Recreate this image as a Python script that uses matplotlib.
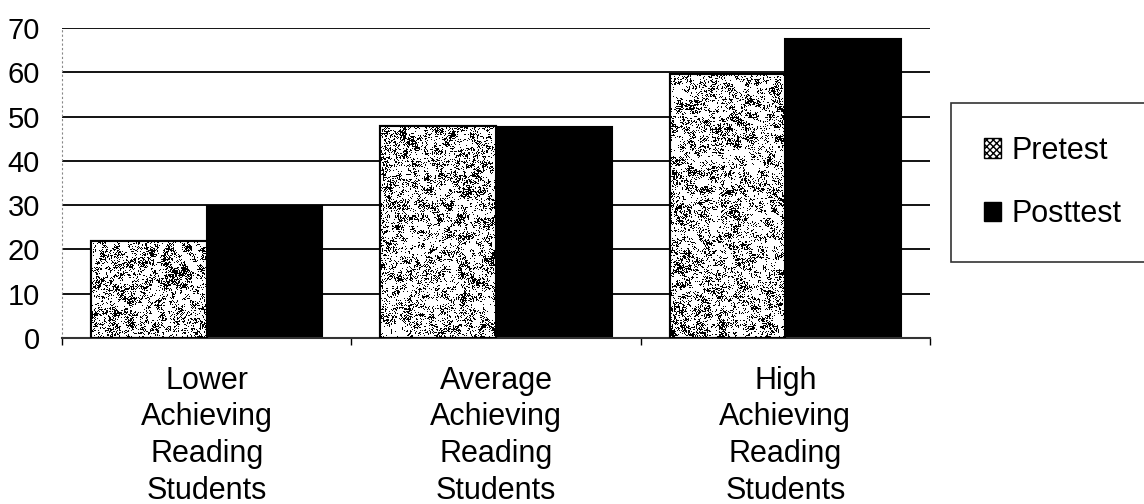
import numpy as np
import matplotlib
matplotlib.use('Agg')
from matplotlib import pyplot as plt
from matplotlib.patches import Patch

# reading scores by achievement group
categories = ['Lower\nAchieving\nReading\nStudents',
              'Average\nAchieving\nReading\nStudents',
              'High\nAchieving\nReading\nStudents']
pretest = [21.8, 47.9, 59.6]
posttest = [29.9, 47.6, 67.5]
yticks = [0, 10, 20, 30, 40, 50, 60, 70]

plt.rcParams['font.family'] = ['Liberation Sans', 'DejaVu Sans']
plt.rcParams['font.size'] = 22


# speckled grey texture used to fill the pretest bars
def speckle(h, w, density=0.27, seed=3):
    rng = np.random.default_rng(seed)
    hh, ww = h // 2 + 2, w // 2 + 2
    n = rng.random((hh + 2, ww + 2))
    s = sum(n[i:i + hh, j:j + ww] for i in range(3) for j in range(3)) / 9.0
    s = np.kron(s, np.ones((2, 2)))[:h, :w]
    s = s + 0.45 * rng.random((h, w))
    thr = np.quantile(s, 1 - density)
    return np.where(s > thr, 0.0, 1.0)


fig = plt.figure(figsize=(11.44, 5.04), dpi=100)
ax = fig.add_axes([62 / 1144, 1 - 338 / 504, (930 - 62) / 1144, (338 - 28) / 504])

x = np.arange(len(categories))
width = 0.4
pre_bars = ax.bar(x - width / 2, pretest, width, color='white',
                  edgecolor='black', linewidth=1.5, zorder=2)
post_bars = ax.bar(x + width / 2, posttest, width, color='black',
                   edgecolor='black', linewidth=1.5, zorder=2)

ax.set_xlim(-0.5, 2.5)
ax.set_ylim(0, 70)

# fill each pretest bar with the speckle pattern
tex = speckle(310, 868)
for b in pre_bars:
    im = ax.imshow(tex, cmap='gray', vmin=0, vmax=1, interpolation='nearest',
                   extent=[-0.5, 2.5, 0, 70], aspect='auto', zorder=2.5)
    im.set_clip_path(b)
for b in pre_bars:
    ax.add_patch(plt.Rectangle(b.get_xy(), b.get_width(), b.get_height(),
                               fill=False, edgecolor='black', lw=1.5, zorder=3))

ax.set_yticks(yticks)
ax.set_yticklabels([str(t) for t in yticks], fontsize=21)
ax.set_xticks(x)
ax.set_xticklabels(categories, linespacing=1.29)
ax.set_xticks([-0.5, 0.5, 1.5, 2.5], minor=True)
ax.tick_params(axis='x', which='major', length=0, pad=20)
ax.tick_params(axis='x', which='minor', length=5, width=1, direction='out')
ax.tick_params(axis='y', length=0, pad=16)

ax.yaxis.grid(True, color='black', linewidth=1.3)
ax.set_axisbelow(True)
for side in ['top', 'right']:
    ax.spines[side].set_visible(False)
ax.spines['bottom'].set_color('#333333')
ax.spines['bottom'].set_linewidth(1.5)
ax.spines['left'].set_color('#888888')
ax.spines['left'].set_linewidth(0.8)
ax.spines['left'].set_linestyle((0, (1, 3)))

handles = [Patch(facecolor='white', edgecolor='black', hatch='xxxxx', lw=1),
           Patch(facecolor='black', edgecolor='black')]
leg = fig.legend(handles, ['Pretest', 'Posttest'], loc='upper left',
                 bbox_to_anchor=(951 / 1144, 1 - 103 / 504),
                 bbox_transform=fig.transFigure, borderaxespad=0,
                 frameon=True, fancybox=False, handlelength=0.56,
                 handleheight=0.6, handletextpad=0.35, borderpad=1.07,
                 labelspacing=1.09)
leg.get_frame().set_edgecolor('black')
leg.get_frame().set_linewidth(1.2)

fig.savefig('out.png', dpi=100)
